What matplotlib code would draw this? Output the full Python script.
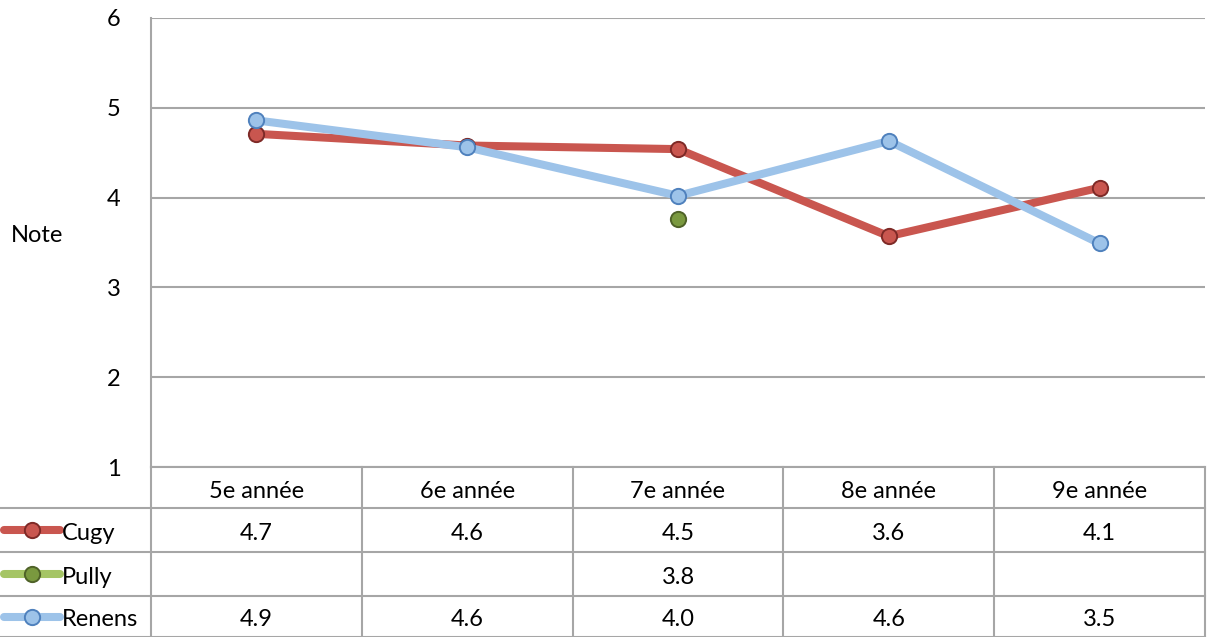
import matplotlib
matplotlib.use("Agg")
import matplotlib.pyplot as plt
import matplotlib.transforms as mtransforms
from matplotlib.lines import Line2D
import numpy as np

plt.rcParams['font.family'] = ['Lato', 'DejaVu Sans']

# data ------------------------------------------------------------------ #
categories = ['5e année', '6e année', '7e année', '8e année', '9e année']
cugy   = [4.71, 4.58, 4.54, 3.57, 4.11]
pully  = [np.nan, np.nan, 3.76, np.nan, np.nan]
renens = [4.86, 4.56, 4.02, 4.63, 3.49]

series_names = ['Cugy', 'Pully', 'Renens']
series_data  = [cugy, pully, renens]
line_colors  = ['#C9564F', '#A5C565', '#9DC3E9']
face_colors  = ['#C9564F', '#7A993F', '#9DC3E9']
edge_colors  = ['#7E2A27', '#4F6228', '#4F81BD']

W, H = 1208, 637
FS = 17

def fx(px):
    return px / W

def fy(py):
    return 1 - py / H

fig = plt.figure(figsize=(W / 100, H / 100), dpi=100)
ax = fig.add_axes([fx(151), fy(467), fx(1205) - fx(151), fy(18) - fy(467)])

x = np.arange(len(categories))

# lines (Pully has a single point, so only the marker shows)
for name, vals, lc, fc, ec in zip(series_names, series_data, line_colors, face_colors, edge_colors):
    ax.plot(x, vals, color=lc, lw=5.8, marker='o', markersize=11,
            markerfacecolor=fc, markeredgecolor=ec, markeredgewidth=1.4,
            solid_joinstyle='miter', zorder=3)

ax.set_xlim(-0.5, len(categories) - 0.5)
ax.set_ylim(1, 6)
ax.set_yticks([1, 2, 3, 4, 5, 6])
ax.set_xticks([])
ax.tick_params(axis='y', length=0, pad=22, labelsize=FS)
ax.grid(axis='y', color='#A6A6A6', lw=1.5)
ax.set_axisbelow(True)
for side in ['top', 'right', 'bottom']:
    ax.spines[side].set_visible(False)
ax.spines['left'].set_color('#A6A6A6')
ax.spines['left'].set_linewidth(1.5)

fig.text(fx(11), fy(236), 'Note', fontsize=FS, ha='left', va='center')

# data table under the chart ------------------------------------------- #
grid_c = '#A6A6A6'
trans = mtransforms.blended_transform_factory(ax.transData, fig.transFigure)
row_edges = [467, 508, 552, 596, 637]

def hline(x0, x1, py):
    fig.add_artist(Line2D([fx(x0), fx(x1)], [fy(py), fy(py)], color=grid_c, lw=1.5,
                          transform=fig.transFigure))

hline(151, 1205, 467)
for py in row_edges[1:]:
    hline(0, 1205, py)

for b in np.arange(len(categories) + 1) - 0.5:
    fig.add_artist(Line2D([b, b], [fy(467), fy(637)], color=grid_c, lw=1.5,
                          transform=trans))

# header row
for xi, cat in zip(x, categories):
    fig.text(xi, fy((467 + 508) / 2 + 4), cat, transform=trans, fontsize=FS,
             ha='center', va='center')

# value rows with legend keys
for r, (name, vals, lc, fc, ec) in enumerate(zip(series_names, series_data, line_colors, face_colors, edge_colors)):
    mid = (row_edges[r + 1] + row_edges[r + 2]) / 2
    yc = fy(mid)
    yt = fy(mid + 3)
    fig.add_artist(Line2D([fx(4), fx(60)], [yc, yc], color=lc, lw=5.8,
                          solid_capstyle='round', transform=fig.transFigure))
    fig.add_artist(Line2D([fx(32)], [yc], marker='o', markersize=11,
                          markerfacecolor=fc, markeredgecolor=ec, markeredgewidth=1.4,
                          transform=fig.transFigure))
    fig.text(fx(62), yt, name, fontsize=FS, ha='left', va='center')
    for xi, v in zip(x, vals):
        if not np.isnan(v):
            fig.text(xi, yt, '{:.1f}'.format(v), transform=trans, fontsize=FS,
                     ha='center', va='center')

plt.savefig('out.png', dpi=100)
